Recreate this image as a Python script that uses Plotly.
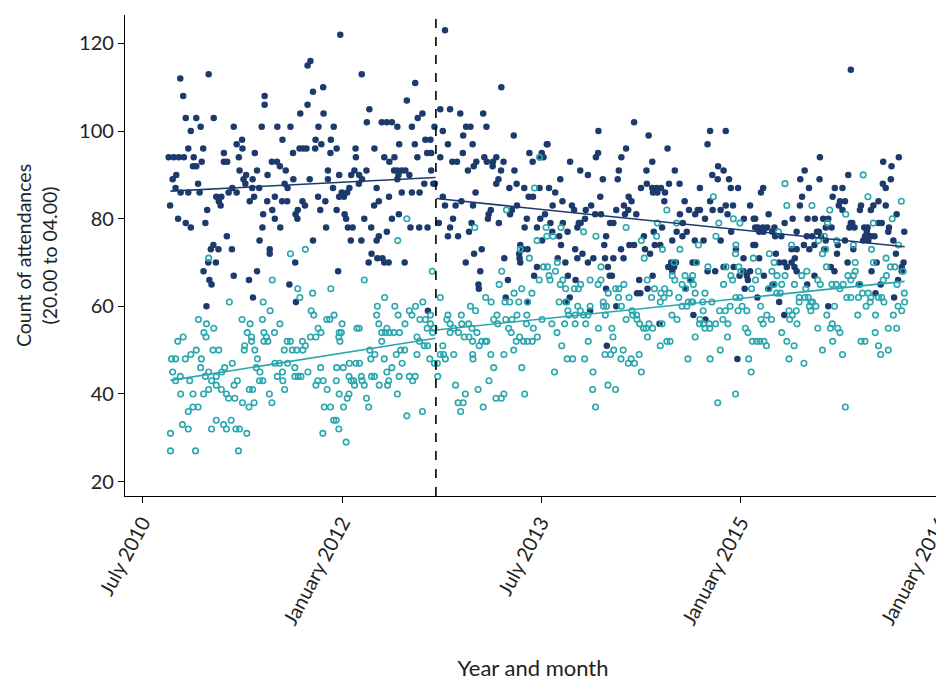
import pandas as pd
import plotly.graph_objects as go

# ---- data (days since 2010-07-01, attendance counts) ----
dark_day = [104,182,112,119,148,196,133,160,126,167,224,72,86,100,114,141,163,139,148,224,233,93,83,153,91,105,126,157,237,203,217,210,215,76,178,98,119,133,173,232,195,188,209,181,202,168,184,190,176,
251,259,274,275,265,309,328,336,336,371,407,385,414,434,454,454,462,469,497,498,484,526,476,492,518,517,432,442,451,475,356,370,378,394,267,315,344,285,278,283,303,247,259,302,321,307,295,343,364,384,398,391,399,415,460,510,510,524,440,447,483,503,489,357,332,421,427,426,364,330,379,505,322,469,246,350,350,420,251,293,315,404,304,422,
544,603,750,727,624,757,770,617,658,672,686,701,741,803,534,586,587,638,706,749,778,792,783,794,665,679,693,756,541,574,583,596,604,616,595,692,701,713,723,704,734,701,794,775,800,804,548,541,554,569,563,644,650,637,678,713,741,762,556,560,534,610,705,686,629,565,578,672,737,761,784,815,573,602,644,650,721,622,630,646,660,665,677,538,785,
832,987,819,846,874,937,826,890,902,946,882,1021,840,908,819,852,865,881,918,911,895,940,947,964,973,963,993,986,1023,979,973,1009,1029,1050,1064,1073,1094,1103,1112,1098,1062,1074,1092,916,826,832,861,877,909,958,952,950,1030,1011,1016,980,854,846,868,898,905,840,1057,1051,1085,1094,1099,933,912,889,995,1039,1046,1059,1036,1039,1037,929,1005,924,925,1085,1077,999,1059,
1352,1254,1392,1114,1330,1317,1247,1253,1176,1204,1225,1310,1307,1386,1149,1266,1387,1371,1118,1135,1259,1337,1345,1324,1336,1327,1358,1303,1155,1128,1181,1187,1219,1234,1245,1261,1217,1205,1196,1200,1107,1122,1156,1169,1286,1295,1275,1270,1339,1352,1379,1382,1396,1127,1146,1151,1190,1196,1210,1225,1240,1272,1295,1323,1316,1142,1163,1280,1285,1291,1170,1191,1366,1360,1369,1389,1175,1164,1275,1303,1231,1277,
1561,1604,1554,1444,1402,1464,1583,1598,1567,1582,1613,1448,1477,1533,1618,1638,1402,1414,1426,1437,1416,1404,1491,1561,1435,1478,1503,1520,1527,1533,1568,1590,1604,1624,1609,1671,1654,1681,1547,1486,1469,1497,1485,1429,1406,1619,1590,1543,1519,1457,1409,1424,1680,1632,1653,1446,1457,1462,1454,1467,1513,1523,1554,1575,1598,1626,1642,1653,1662,1665,1671,1403,1509,1494,1515,1656,1548,1422,1636,
1863,1821,1809,1862,1833,1701,1707,1814,1808,1898,1722,1788,1766,1829,1849,1872,1879,1860,1866,1855,1842,1827,1819,1834,1848,1875,1879,1685,1685,1692,1706,1718,1738,1732,1740,1757,1708,1696,1685,1799,1895,1886,1785,1799,1794,1696,1742,1751,1765,1785,1772,1793,1799,1709,1848,1828,1903,1893,1733,1691,1751,1765,1886,1721,
1948,2080,2037,2060,2058,2036,2044,1941,1904,1925,1918,1932,1915,1925,1976,1973,2024,2010,2003,2044,2074,1948,1944,1958,1952,2024,2033,1985,1994,1992,1987,1982,2003,1996,2013,2053,2051,2095,2065,1932,1912,1955,1910,2072,1939,2019,2093,2088,2088,2078,2005,1970,2030,2016,2067]
dark_count = [112,113,108,103,103,103,100,101,96,96,95,94,94,94,94,94,93,92,92,93,93,90,89,88,87,86,86,86,86,85,85,84,83,83,82,80,79,78,79,76,74,73,73,70,70,68,66,65,60,
101,97,98,96,94,95,101,108,106,101,101,98,95,104,106,115,116,109,110,104,101,101,98,97,98,95,96,96,96,96,93,93,92,91,91,91,90,90,89,88,89,87,86,87,87,85,84,84,85,84,84,88,87,89,89,91,89,87,84,83,85,84,82,82,81,81,82,80,80,78,78,78,75,75,73,73,72,70,67,66,68,65,62,61,
122,113,111,107,105,103,104,102,102,102,102,101,101,101,96,96,94,96,97,97,98,98,95,95,94,93,94,94,90,90,91,90,89,91,88,91,91,91,91,90,90,89,91,88,88,88,86,85,85,87,86,87,84,83,85,86,86,86,81,80,82,80,81,80,78,78,78,77,78,78,78,79,75,75,75,76,70,70,72,71,71,70,70,68,59,
123,110,105,105,104,104,100,101,101,101,99,99,97,97,94,93,93,95,93,92,91,94,93,93,94,92,93,91,91,89,88,87,88,87,95,93,94,94,97,95,85,85,87,86,85,83,83,84,83,82,81,80,83,81,82,79,80,78,76,77,79,76,80,78,78,80,75,73,72,70,71,74,73,73,72,70,71,68,66,65,64,69,67,62,61,
102,100,99,97,96,94,94,95,93,91,90,91,89,91,89,89,88,87,87,86,85,85,84,83,82,81,81,82,84,83,83,82,82,83,81,81,80,79,78,79,81,79,79,77,79,79,76,74,74,74,76,73,72,77,76,74,73,71,72,70,71,71,71,71,73,71,70,69,67,67,67,66,66,63,63,64,62,61,64,60,59,51,
100,100,97,96,93,91,92,91,90,89,89,88,88,87,87,87,87,87,87,86,86,86,84,84,84,81,82,81,82,82,82,82,83,83,81,83,80,80,80,79,77,77,76,78,77,77,75,75,75,75,74,74,74,73,71,69,68,69,70,70,70,70,68,68,69,69,67,68,67,66,68,67,66,64,58,64,57,56,48,
94,91,89,89,87,86,87,85,83,85,81,80,79,80,80,80,78,77,76,77,76,76,74,73,74,73,75,80,78,78,78,78,78,77,76,76,77,77,74,77,78,80,73,73,71,71,72,70,70,70,69,69,68,67,67,65,68,69,65,62,61,58,60,64,
114,94,93,92,89,88,87,90,87,87,84,84,83,82,83,82,84,83,82,83,81,79,78,78,79,79,79,78,78,77,76,75,76,75,76,78,77,77,75,75,74,73,72,72,70,70,70,69,68,66,68,65,65,63,62]

teal_day = [182,239,154,176,196,169,175,97,112,148,194,210,80,91,118,133,162,83,160,104,91,130,182,173,190,203,218,226,217,203,231,237,105,139,168,182,126,139,153,110,126,203,190,223,231,77,77,146,
448,407,357,427,468,518,433,332,351,464,471,507,515,527,274,330,296,378,334,363,288,300,341,483,491,462,477,300,334,345,281,280,309,398,407,390,412,424,440,448,441,316,364,377,399,313,419,490,247,323,322,331,385,371,386,419,428,436,455,482,477,497,261,252,391,294,303,254,349,275,293,307,356,508,500,517,526,257,267,287,244,496,264,
727,702,610,797,666,646,694,751,741,734,771,763,778,792,644,650,703,722,783,792,802,798,549,541,547,543,540,590,596,672,658,668,679,691,707,658,755,762,775,784,625,639,628,710,721,698,755,665,714,569,587,597,534,552,790,803,811,812,686,672,568,574,581,583,602,610,604,630,638,677,674,651,706,734,743,750,533,701,541,568,563,553,616,622,727,770,533,540,560,
1092,1078,1001,914,1085,1039,1064,988,1103,1091,981,1043,1022,1071,944,959,997,1010,1035,1059,819,902,916,840,837,846,856,869,846,878,877,897,885,906,908,920,898,926,933,943,947,966,975,977,999,1016,1030,1057,1056,1007,1014,1037,1028,1048,1059,1072,1086,1075,1099,1021,819,828,833,826,856,908,909,958,994,966,1043,953,861,923,888,868,882,875,937,972,987,994,1051,
1330,1151,1213,1247,1110,1112,1129,1372,1380,1141,1261,1114,1118,1121,1136,1156,1149,1164,1188,1199,1205,1231,1261,1253,1301,1310,1324,1388,1281,1309,1338,1146,1167,1267,1268,1276,1317,1197,1231,1170,1204,1190,1172,1213,1225,1273,1126,1161,1190,1219,1254,1291,1330,1346,1348,1359,1360,1367,1378,1385,1393,1389,1140,1294,1226,1153,1296,1272,1287,1322,1316,1336,1344,1353,1366,1168,1183,1216,1372,1133,1239,1280,1301,1238,1246,
1570,1442,1585,1625,1643,1469,1416,1414,1577,1529,1478,1430,1632,1631,1680,1462,1524,1555,1605,1640,1618,1646,1623,1457,1464,1492,1513,1506,1484,1493,1515,1598,1408,1436,1449,1426,1434,1424,1400,1475,1520,1547,1510,1501,1497,1513,1541,1566,1542,1632,1643,1649,1662,1638,1675,1616,1587,1603,1484,1456,1470,1429,1403,1533,1532,1547,1560,1559,1576,1596,1610,1543,1520,1609,1658,1665,1677,1424,1442,1451,1589,1500,1561,1667,1674,1631,1582,
1767,1772,1841,1890,1884,1785,1859,1875,1749,1724,1737,1694,1686,1870,1879,1881,1827,1813,1793,1758,1767,1745,1731,1723,1737,1744,1754,1824,1857,1864,1896,1806,1806,1822,1831,1838,1834,1838,1852,1843,1700,1717,1701,1707,1730,1778,1787,1798,1780,1800,1689,1698,1709,1716,1758,1772,1792,1778,1819,1857,1870,1882,1897,1892,1898,1903,
1982,1995,2087,1934,2010,2062,1909,1955,2005,2079,2045,2010,1960,2092,2057,2069,1940,1955,1960,1948,1908,1918,1927,1973,2037,2046,2075,1937,1948,1969,1980,1996,2003,2001,1990,2024,2033,2039,2095,2078,2088,2096,1967,2016,2065,1912,1918,2015,2051,2074,1976,1987,2024,2051,2030,1925,1933]
teal_count = [71,61,57,56,55,54,53,52,53,50,50,50,48,48,48,49,48,45,46,44,43,43,45,44,43,44,45,46,41,42,40,39,40,40,40,41,36,37,37,33,32,34,32,33,32,31,27,27,
73,72,66,64,63,64,62,61,59,59,58,57,57,58,57,57,56,56,54,54,54,53,53,55,54,53,53,52,52,52,51,50,50,52,52,50,50,50,52,51,50,48,47,47,47,46,46,46,47,45,43,43,45,44,43,44,44,44,45,43,42,43,43,42,41,41,41,39,40,38,37,38,38,41,37,37,34,32,32,31,34,31,27,
80,75,66,68,62,60,60,60,58,59,61,57,57,58,58,56,58,56,55,56,55,54,56,54,54,52,53,55,55,55,54,54,54,54,54,52,53,52,51,51,50,49,48,50,50,49,49,48,47,47,47,47,46,46,48,47,47,44,46,45,44,43,43,42,44,42,43,44,44,43,42,42,44,44,43,44,43,40,40,40,39,37,39,37,35,36,34,32,29,
94,87,82,78,75,73,71,68,69,66,65,64,63,63,62,61,61,61,61,61,62,60,59,58,57,56,55,54,54,56,58,56,53,55,52,54,53,51,52,52,52,57,58,56,57,57,58,58,56,55,54,53,52,52,52,52,53,55,57,50,49,49,48,51,49,49,48,49,49,46,46,43,42,41,40,38,38,36,37,39,39,40,40,
78,78,77,76,78,76,76,75,71,70,69,69,67,66,68,66,65,64,64,64,65,66,66,65,64,64,65,66,63,62,62,61,61,61,60,60,60,60,60,59,59,58,58,58,58,58,56,56,56,56,55,55,57,59,58,58,57,56,55,55,56,53,54,53,52,51,50,49,49,50,48,47,48,47,49,48,48,48,45,45,45,42,41,41,37,
85,82,79,80,79,79,79,76,76,74,73,73,74,72,71,70,70,69,69,69,67,68,66,67,66,67,67,66,65,64,65,65,64,64,63,63,62,61,62,62,63,63,61,61,60,61,61,61,59,62,62,60,59,59,64,60,59,59,60,58,57,56,55,57,56,55,55,56,56,57,56,56,53,53,55,54,52,51,52,52,50,48,48,48,45,40,38,
88,83,83,82,79,74,75,76,77,72,70,68,66,72,73,69,68,67,65,65,67,67,68,64,65,63,63,64,66,65,65,62,61,62,62,61,60,59,60,61,60,58,57,56,57,59,58,59,57,56,52,52,52,51,54,52,51,48,47,55,50,58,56,55,52,60,
90,85,84,81,79,80,75,74,73,74,71,70,70,68,69,69,67,67,68,66,65,64,65,65,66,67,65,62,62,62,63,63,62,61,60,62,62,61,63,60,59,61,58,58,58,55,54,54,55,55,52,52,51,50,49,49,37]

# segmented trend lines (start/end day, fitted value)
trend_dark_pre_day = [77, 806]
trend_dark_pre_val = [86.3, 89.4]
trend_dark_post_day = [808, 2096]
trend_dark_post_val = [84.6, 73.6]
trend_teal_pre_day = [77, 806]
trend_teal_pre_val = [43.1, 52.7]
trend_teal_post_day = [808, 2096]
trend_teal_post_val = [54.6, 65.7]

intervention_date = "2012-09-15"

tick_dates = ["2010-07-01", "2012-01-01", "2013-07-01", "2015-01-01", "2016-07-01"]
tick_labels = ["July 2010", "January 2012", "July 2013", "January 2015", "January 2016"]

y_ticks = [20, 40, 60, 80, 100, 120]

BASE = pd.Timestamp("2010-07-01")


def to_dates(days):
    return BASE + pd.to_timedelta(days, unit="D")


NAVY = "#1c3a6c"
TEAL = "#2aa6ad"

fig = go.Figure()
fig.add_trace(go.Scatter(x=to_dates(dark_day), y=dark_count, mode="markers",
                         marker=dict(symbol="circle", size=6.5, color=NAVY, line=dict(width=0)),
                         showlegend=False, hoverinfo="skip"))
fig.add_trace(go.Scatter(x=to_dates(teal_day), y=teal_count, mode="markers",
                         marker=dict(symbol="circle-open", size=5.5, color=TEAL, line=dict(width=1.6, color=TEAL)),
                         showlegend=False, hoverinfo="skip"))
for d, v, c in [(trend_dark_pre_day, trend_dark_pre_val, NAVY),
                (trend_dark_post_day, trend_dark_post_val, NAVY),
                (trend_teal_pre_day, trend_teal_pre_val, TEAL),
                (trend_teal_post_day, trend_teal_post_val, TEAL)]:
    fig.add_trace(go.Scatter(x=to_dates(d), y=v, mode="lines",
                             line=dict(color=c, width=1.6), showlegend=False, hoverinfo="skip"))

fig.add_shape(type="line", xref="x", yref="paper", x0=intervention_date, x1=intervention_date,
              y0=0, y1=1, line=dict(color="black", width=1.6, dash="dash"))

tick_font = dict(family="Lato, sans-serif", size=20, color="#222222")
fig.update_layout(
    width=936, height=673,
    margin=dict(l=117, r=3, t=7, b=185),
    paper_bgcolor="white", plot_bgcolor="white",
    font=tick_font,
    xaxis=dict(type="date", range=["2010-05-14", "2016-07-05"], automargin=False,
               tickmode="array", tickvals=tick_dates, ticktext=tick_labels, tickfont=tick_font,
               ticklabeloverflow="allow",
               tickangle=-62, ticks="outside", ticklen=6, tickwidth=1.3, tickcolor="black",
               showline=True, linecolor="black", linewidth=1.3, showgrid=False, zeroline=False,
               title=dict(text="Year and month", standoff=33,
                          font=dict(family="Lato, sans-serif", size=22, color="#222222"))),
    yaxis=dict(range=[16.7, 126.5], tickmode="array", tickvals=y_ticks, automargin=False,
               tickfont=tick_font,
               ticks="outside", ticklen=6, tickwidth=1.3, tickcolor="black",
               showline=True, linecolor="black", linewidth=1.3, showgrid=False, zeroline=False,
               title=dict(text="Count of attendances<br>(20.00 to 04.00)", standoff=16,
                          font=dict(family="Lato, sans-serif", size=19.5, color="#222222"))),
)

fig.write_html("out.html")
